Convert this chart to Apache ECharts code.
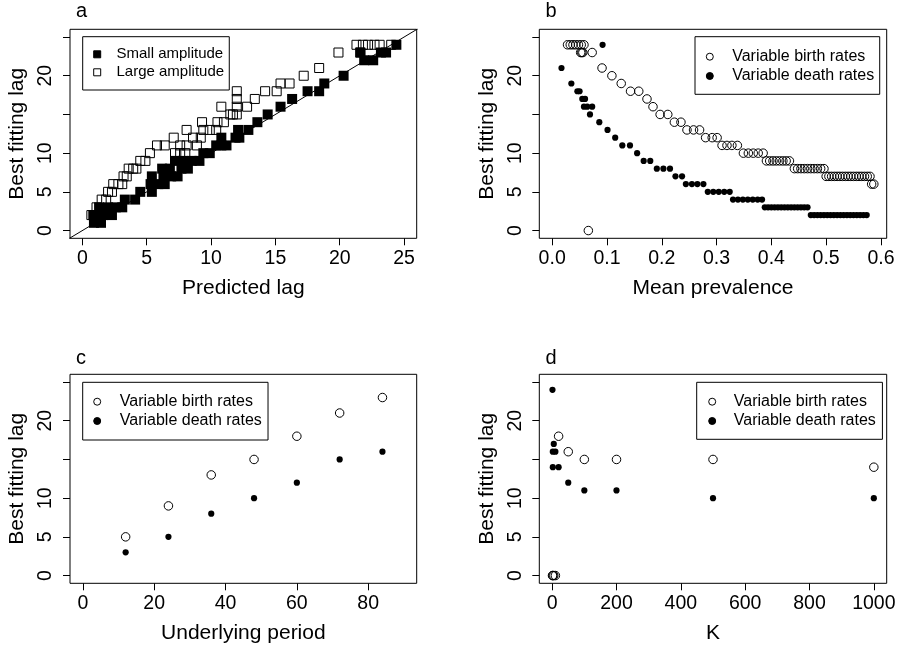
<!DOCTYPE html>
<html><head><meta charset="utf-8">
<script src="https://cdn.jsdelivr.net/npm/echarts@6/dist/echarts.min.js"></script>
<style>html,body{margin:0;padding:0;background:#fff}#c{width:905px;height:645px}</style>
</head><body><div id="c"></div>
<script>
const FONT = '"Liberation Sans", Arial, Helvetica, sans-serif';
const panelLetters = ['a', 'b', 'c', 'd'];
const xNames = ['Predicted lag', 'Mean prevalence', 'Underlying period', 'K'];
const yName = 'Best fitting lag';
const lagTicks = [0, 5, 10, 15, 20, 25];
const lagLabels = [0, 5, 10, 20];
const xTicksA = [0, 5, 10, 15, 20, 25];
const xTicksB = [0, 0.1, 0.2, 0.3, 0.4, 0.5, 0.6];
const xTicksC = [0, 20, 40, 60, 80];
const xTicksD = [0, 200, 400, 600, 800, 1000];
const legendA = ['Small amplitude', 'Large amplitude'];
const legendBCD = ['Variable birth rates', 'Variable death rates'];

// Panel a: [predicted lag, best fitting lag]
const smallAmplitude = [
  [0.9,1],[1.45,1],
  [0.85,2],[1.6,2],[2.3,2],
  [1.3,3],[2.0,3],[2.6,3],[3.1,3],
  [3.3,4],[4.1,4],
  [4.5,5],[5.4,5],
  [5.3,6],[5.9,6],[6.4,6],
  [5.4,7],[6.3,7],[6.9,7],[7.4,7],
  [6.2,8],[6.8,8],[7.7,8],[8.2,8],
  [7.2,9],[7.8,9],[8.5,9],[9.1,9],
  [9.4,10],[9.9,10],
  [10.4,11],[10.8,11],[11.2,11],
  [10.8,12],[11.9,12],[12.2,12],
  [12.1,13],[12.9,13],
  [13.6,14],
  [14.4,15],
  [15.4,16],
  [16.3,17],
  [17.5,18],[18.4,18],
  [18.8,19],
  [20.3,20],
  [21.9,22],[22.6,22],
  [21.6,23],[23.2,23],[23.6,23],
  [24.4,24]
];
const largeAmplitude = [
  [0.7,2],[1.1,3],[1.5,4],[1.85,4],[2.0,5],[2.3,5],[2.4,6],[2.8,6],[3.1,6],
  [3.2,7],[3.45,7],[3.6,8],[3.95,8],[4.2,8],[4.5,9],[4.9,9],
  [5.25,10],[7.2,10],[7.6,10],[8.0,10],
  [5.8,11],[6.4,11],[7.6,11],[8.1,11],[8.9,11],
  [7.1,12],[8.6,12],[9.2,12],
  [8.1,13],[9.4,13],[9.9,13],[10.4,13],
  [9.3,14],[10.5,14],[11.0,14],
  [11.5,15],[11.7,15],[12.0,15],
  [10.8,16],[12.0,16],[12.8,16],
  [12.0,17],[13.4,17],
  [12.0,18],[14.2,18],[15.1,18],
  [15.4,19],[16.1,19],
  [17.2,20],[18.4,21],
  [19.9,23],[21.6,23],
  [21.3,24],[21.8,24],[22.2,24],[22.7,24],[23.1,24],[24.0,24],[26.0,24]
];
const identityLine = [[-2,-2],[28,28]];

// Panel b: [mean prevalence, best fitting lag]
const prevalenceBirth = [
  [0.028,24],[0.033,24],[0.038,24],[0.043,24],[0.048,24],[0.053,24],[0.058,24],
  [0.052,23],[0.054,23],[0.056,23],[0.073,23],
  [0.066,0],
  [0.091,21],[0.109,20],[0.126,19],[0.143,18],[0.158,18],[0.173,17],[0.184,16],
  [0.197,15],[0.211,15],[0.223,14],[0.235,14],
  [0.246,13],[0.258,13],[0.269,13],
  [0.28,12],[0.292,12],[0.301,12],
  [0.31,11],[0.319,11],[0.328,11],[0.338,11],
  [0.349,10],[0.358,10],[0.367,10],[0.376,10],[0.385,10],
  [0.391,9],[0.397,9],[0.403,9],[0.409,9],[0.415,9],[0.421,9],[0.427,9],[0.433,9],
  [0.442,8],[0.448,8],[0.454,8],[0.46,8],[0.466,8],[0.472,8],[0.478,8],[0.484,8],[0.49,8],[0.496,8],
  [0.5,7],[0.505,7],[0.51,7],[0.515,7],[0.52,7],[0.525,7],[0.53,7],[0.535,7],[0.54,7],
  [0.545,7],[0.55,7],[0.555,7],[0.56,7],[0.565,7],[0.57,7],[0.575,7],[0.58,7],
  [0.583,6],[0.587,6]
];
const prevalenceDeath = [
  [0.017,21],[0.092,24],[0.035,19],[0.046,18],[0.05,18],[0.055,17],[0.06,17],
  [0.058,16],[0.064,16],[0.073,16],[0.069,15],[0.086,14],[0.101,13],[0.115,12],
  [0.128,11],[0.142,11],[0.155,10],[0.167,9],[0.179,9],
  [0.191,8],[0.203,8],[0.215,8],[0.225,7],[0.237,7],
  [0.244,6],[0.255,6],[0.265,6],[0.276,6],
  [0.284,5],[0.294,5],[0.304,5],[0.314,5],[0.324,5],
  [0.33,4],[0.339,4],[0.348,4],[0.357,4],[0.366,4],[0.375,4],[0.383,4],
  [0.388,3],[0.394,3],[0.4,3],[0.406,3],[0.412,3],[0.418,3],[0.424,3],
  [0.43,3],[0.436,3],[0.442,3],[0.448,3],[0.454,3],[0.46,3],[0.466,3],
  [0.472,2],[0.478,2],[0.484,2],[0.49,2],[0.496,2],[0.502,2],[0.508,2],[0.514,2],[0.52,2],
  [0.526,2],[0.532,2],[0.538,2],[0.544,2],[0.55,2],[0.556,2],[0.562,2],[0.568,2],[0.574,2]
];

// Panel c
const periodValues = [12, 24, 36, 48, 60, 72, 84];
const periodBirth = [5, 9, 13, 15, 18, 21, 23];
const periodDeath = [3, 5, 8, 10, 12, 15, 16];

// Panel d: [K, best fitting lag]
const kBirth = [[1,0],[2,0],[5,0],[10,0],[20,18],[50,16],[100,15],[200,15],[500,15],[1000,14]];
const kDeath = [[1,24],[5,17],[2,16],[10,16],[2,14],[20,14],[50,12],[100,11],[200,11],[500,10],[1000,10]];

const boxes = [
  {left: 70, top: 29.3, width: 346.7, height: 209},
  {left: 539.3, top: 29.3, width: 347.4, height: 209},
  {left: 70, top: 374.3, width: 346.7, height: 209},
  {left: 539.3, top: 374.3, width: 347.4, height: 209}
];
const xRanges = [[-0.96, 25.98], [-0.0235, 0.6105], [-3.6, 93.6], [-40, 1040]];
const xTicks = [xTicksA, xTicksB, xTicksC, xTicksD];
const xFormat = [v => String(v), v => v.toFixed(1), v => String(v), v => String(v)];

const txt = (size) => ({fontFamily: FONT, fontSize: size, color: '#000', fontWeight: 'normal'});

const grid = boxes.map(b => Object.assign({show: true, borderColor: '#000', borderWidth: 1,
  backgroundColor: 'transparent', containLabel: false, outerBoundsMode: 'none'}, b));

const xAxis = boxes.map((b, i) => ({
  type: 'value', gridIndex: i, min: xRanges[i][0], max: xRanges[i][1],
  name: xNames[i], nameLocation: 'middle', nameGap: 39, nameTextStyle: txt(21),
  axisLine: {show: false, onZero: false}, splitLine: {show: false},
  axisTick: {show: true, inside: false, length: 7, customValues: xTicks[i], lineStyle: {color: '#000', width: 1}},
  axisLabel: Object.assign({customValues: xTicks[i], margin: 10, formatter: xFormat[i],
    showMinLabel: true, showMaxLabel: true, hideOverlap: false}, txt(19.5))
}));

const yAxis = boxes.map((b, i) => ({
  type: 'value', gridIndex: i, min: -1, max: 26,
  name: yName, nameLocation: 'middle', nameGap: 42, nameTextStyle: txt(21),
  axisLine: {show: false, onZero: false}, splitLine: {show: false},
  axisTick: {show: true, inside: false, length: 7, customValues: lagTicks, lineStyle: {color: '#000', width: 1}},
  axisLabel: Object.assign({customValues: lagLabels, rotate: 90, margin: 14,
    showMinLabel: true, showMaxLabel: true, hideOverlap: false}, txt(19.5))
}));

const openStyle = {color: 'rgba(0,0,0,0)', borderColor: '#000', borderWidth: 1, opacity: 1};
const fillStyle = {color: '#000', borderColor: '#000', borderWidth: 0, opacity: 1};

const series = [
  {type: 'line', name: 'y = x', xAxisIndex: 0, yAxisIndex: 0, data: identityLine,
   showSymbol: false, symbol: 'none', clip: true, silent: true,
   lineStyle: {color: '#000', width: 1}, z: 1},
  {type: 'scatter', name: legendA[0], xAxisIndex: 0, yAxisIndex: 0, data: smallAmplitude,
   symbol: 'rect', symbolSize: 10, itemStyle: fillStyle, z: 2},
  {type: 'scatter', name: legendA[1], xAxisIndex: 0, yAxisIndex: 0, data: largeAmplitude,
   symbol: 'rect', symbolSize: 9, itemStyle: openStyle, z: 3},
  {type: 'scatter', name: legendBCD[0], xAxisIndex: 1, yAxisIndex: 1, data: prevalenceBirth,
   symbol: 'circle', symbolSize: 8.5, itemStyle: openStyle, z: 2},
  {type: 'scatter', name: legendBCD[1], xAxisIndex: 1, yAxisIndex: 1, data: prevalenceDeath,
   symbol: 'circle', symbolSize: 6.2, itemStyle: fillStyle, z: 3},
  {type: 'scatter', name: legendBCD[0], xAxisIndex: 2, yAxisIndex: 2,
   data: periodValues.map((p, k) => [p, periodBirth[k]]),
   symbol: 'circle', symbolSize: 8.5, itemStyle: openStyle, z: 2},
  {type: 'scatter', name: legendBCD[1], xAxisIndex: 2, yAxisIndex: 2,
   data: periodValues.map((p, k) => [p, periodDeath[k]]),
   symbol: 'circle', symbolSize: 6.2, itemStyle: fillStyle, z: 3},
  {type: 'scatter', name: legendBCD[0], xAxisIndex: 3, yAxisIndex: 3, data: kBirth,
   symbol: 'circle', symbolSize: 8.5, itemStyle: openStyle, z: 2},
  {type: 'scatter', name: legendBCD[1], xAxisIndex: 3, yAxisIndex: 3, data: kDeath,
   symbol: 'circle', symbolSize: 6.2, itemStyle: fillStyle, z: 3}
];

function legendCfg(names, left, top, pad, textPad, size, lineH, gap) {
  return {
    show: true, orient: 'vertical', left: left, top: top, data: names,
    padding: pad, itemGap: gap, itemWidth: 7, itemHeight: 7,
    borderColor: '#000', borderWidth: 1, backgroundColor: '#fff',
    selectedMode: false,
    itemStyle: {borderWidth: 1, borderColor: '#000', opacity: 1},
    textStyle: Object.assign({padding: [0, 0, 0, textPad], lineHeight: lineH}, txt(size))
  };
}

const legend = [
  legendCfg(legendA, 82.7, 36.7, [10.1, 5.2, 10.2, 10.5], 10.8, 15, 15, 3),
  legendCfg(legendBCD, 695, 36.7, [12, 5.5, 10.3, 10.8], 13.9, 16, 16, 3.3),
  legendCfg(legendBCD, 82.7, 382.3, [11.4, 6.2, 11, 10.5], 14.1, 16, 16, 3.3),
  legendCfg(legendBCD, 696.7, 382.3, [11.4, 6.6, 10.3, 11.5], 13.1, 16, 16, 3.3)
];

const titlePos = [[76, 1], [545.5, 1], [76, 348], [545.5, 348]];
const title = panelLetters.map((t, i) => ({
  text: t, left: titlePos[i][0], top: titlePos[i][1], padding: 0,
  textStyle: txt(20)
}));

const chart = echarts.init(document.getElementById('c'), null, {renderer: 'canvas'});
chart.setOption({
  animation: false, backgroundColor: '#fff',
  title, legend, grid, xAxis, yAxis, series
});
</script></body></html>
